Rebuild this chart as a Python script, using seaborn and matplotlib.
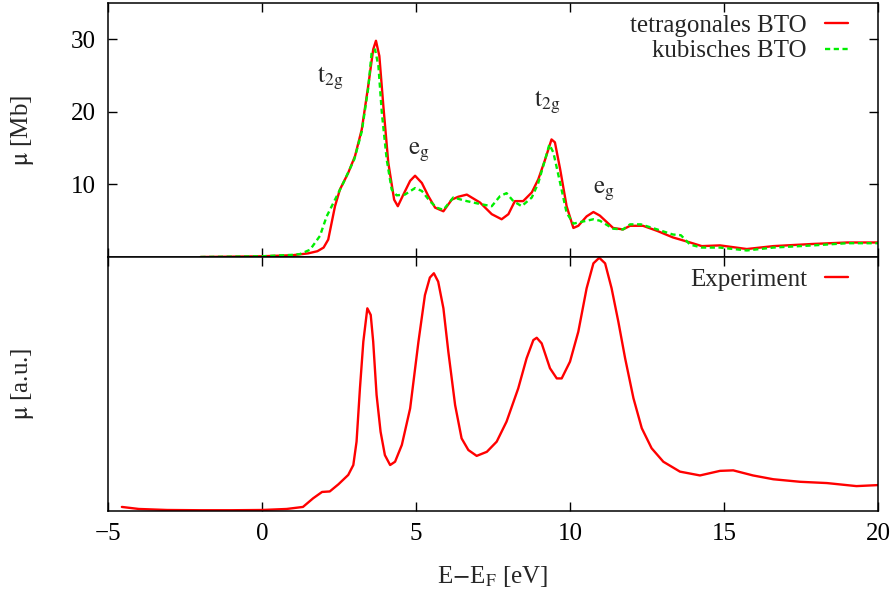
import matplotlib
matplotlib.use("Agg")
import matplotlib.pyplot as plt
import seaborn as sns
import pandas as pd

# ---------------- data ----------------
tet_x = [-2.0, 0, 1.0, 1.5, 1.8, 2.0, 2.15, 2.37, 2.53, 2.80, 3.02, 3.24, 3.45, 3.61, 3.70, 3.81,
         3.94, 4.10, 4.29, 4.41, 4.59, 4.81, 4.97, 5.19, 5.40, 5.62, 5.89, 6.16, 6.37, 6.65, 7.08,
         7.46, 7.78, 8.0, 8.21, 8.48, 8.76, 8.97, 9.19, 9.40, 9.51, 9.68, 9.89, 10.11, 10.27,
         10.54, 10.76, 10.97, 11.4, 11.72, 11.95, 12.37, 12.83, 13.34, 13.9, 14.28, 14.87,
         15.74, 16.6, 17.9, 19.0, 20.0]
tet_y = [0, 0.1, 0.25, 0.5, 0.8, 1.3, 2.4, 7.0, 9.3, 11.6, 13.9, 17.6, 23.6, 28.6, 29.8, 27.7,
         20.8, 13.0, 7.9, 7.0, 8.6, 10.5, 11.2, 10.2, 8.4, 6.8, 6.3, 7.9, 8.3, 8.6, 7.5,
         5.9, 5.2, 5.9, 7.7, 7.7, 8.9, 10.7, 13.4, 16.2, 15.8, 12.1, 7.0, 4.0, 4.3,
         5.6, 6.2, 5.7, 4.0, 3.8, 4.3, 4.3, 3.6, 2.7, 2.0, 1.5, 1.6,
         1.1, 1.5, 1.8, 2.0, 2.0]

cub_x = [-2.0, 0, 1.0, 1.23, 1.56, 1.88, 2.10, 2.37, 2.64, 3.0, 3.24, 3.45, 3.56, 3.67, 3.78,
         3.89, 4.05, 4.21, 4.37, 4.64, 4.97, 5.19, 5.45, 5.67, 5.89, 6.21, 6.65, 7.08, 7.46,
         7.73, 7.94, 8.16, 8.43, 8.76, 8.97, 9.19, 9.33, 9.46, 9.68, 9.89, 10.11, 10.43,
         10.76, 10.97, 11.4, 11.72, 11.95, 12.3, 12.83, 13.34, 13.6, 13.9, 14.28, 14.87,
         15.74, 16.6, 17.9, 19.0, 20.0]
cub_y = [0, 0.1, 0.3, 0.4, 1.0, 2.9, 5.6, 7.9, 10.2, 13.5, 17.3, 23.3, 28.2, 28.6, 26.3,
         19.9, 13.4, 9.3, 8.5, 8.6, 9.5, 9.1, 7.7, 6.8, 6.5, 8.2, 7.7, 7.3, 7.0,
         8.4, 8.8, 7.7, 7.0, 8.2, 10.2, 13.4, 15.5, 14.4, 10.2, 6.1, 4.6, 4.9,
         5.2, 5.0, 3.9, 3.8, 4.5, 4.5, 3.8, 3.1, 3.0, 1.7, 1.3, 1.3,
         0.9, 1.3, 1.6, 1.9, 1.9]

exp_x = [-4.55, -4.0, -3.08, -2, -1, 0, 0.8, 1.33, 1.66, 1.95, 2.2, 2.48, 2.80, 2.965, 3.07,
         3.18, 3.29, 3.42, 3.53, 3.61, 3.72, 3.85, 3.99, 4.16, 4.32, 4.54, 4.81, 5.08, 5.29,
         5.45, 5.58, 5.72, 5.89, 6.05, 6.27, 6.48, 6.70, 6.97, 7.30, 7.62, 7.94, 8.32, 8.59,
         8.81, 8.92, 9.08, 9.35, 9.57, 9.73, 10.0, 10.27, 10.54, 10.76, 10.95, 11.14, 11.35,
         11.57, 11.79, 12.06, 12.33, 12.65, 13.03, 13.57, 14.22, 14.87, 15.3, 15.94, 16.6,
         17.47, 18.34, 19.3, 20.0]
exp_y = [0.016, 0.008, 0.004, 0.003, 0.003, 0.004, 0.008, 0.016, 0.05, 0.075, 0.077, 0.105,
         0.142, 0.181, 0.273, 0.483, 0.667, 0.798, 0.772, 0.667, 0.457, 0.312, 0.22, 0.181,
         0.194, 0.26, 0.404, 0.667, 0.85, 0.919, 0.936, 0.903, 0.798, 0.627, 0.417, 0.286,
         0.24, 0.217, 0.233, 0.273, 0.352, 0.483, 0.601, 0.673, 0.682, 0.66, 0.562, 0.522,
         0.522, 0.588, 0.706, 0.877, 0.975, 0.997, 0.975, 0.877, 0.745, 0.601, 0.444, 0.326,
         0.247, 0.194, 0.155, 0.14, 0.158, 0.16, 0.14, 0.125, 0.115, 0.11, 0.098, 0.102]

labels_top = ["tetragonales BTO", "kubisches BTO"]
label_bot = "Experiment"
x_ticks = [-5, 0, 5, 10, 15, 20]
y_ticks_top = [10, 20, 30]

annotations = [(2.2, 24.6, r"$\mathrm{t_{2g}}$"), (5.1, 14.4, r"$\mathrm{e_g}$"),
               (9.25, 21.3, r"$\mathrm{t_{2g}}$"), (11.1, 9.0, r"$\mathrm{e_g}$")]

# ---------------- style ----------------
sns.set_theme(style="ticks")
plt.rcParams["font.family"] = ["Liberation Serif", "DejaVu Serif"]
plt.rcParams["mathtext.fontset"] = "stix"
FS = 18

fig = plt.figure(figsize=(8.95, 5.89), dpi=100)
L, R = 108 / 895, 878 / 895
ax1 = fig.add_axes([L, 1 - 257 / 589, R - L, (257 - 3) / 589])
ax2 = fig.add_axes([L, 1 - 511 / 589, R - L, (511 - 257) / 589], sharex=ax1)

df_top = pd.concat([
    pd.DataFrame({"x": tet_x, "y": tet_y, "s": labels_top[0]}),
    pd.DataFrame({"x": cub_x, "y": cub_y, "s": labels_top[1]}),
])
red = "#ff0000"
green = "#00ee00"
sns.lineplot(data=df_top, x="x", y="y", hue="s", style="s",
             palette={labels_top[0]: red, labels_top[1]: green},
             dashes={labels_top[0]: "", labels_top[1]: (2.2, 1.5)},
             linewidth=1.7, ax=ax1, sort=False, estimator=None)

df_bot = pd.DataFrame({"x": exp_x, "y": exp_y, "s": label_bot})
sns.lineplot(data=df_bot, x="x", y="y", hue="s", palette={label_bot: red},
             linewidth=1.7, ax=ax2, sort=False, estimator=None)

for xa, ya, t in annotations:
    ax1.text(xa, ya, t, fontsize=FS, ha="center", va="center")

ax1.set_xlim(-5, 20)
ax1.set_ylim(0, 35)
ax2.set_ylim(0, 1.0)
ax1.set_yticks(y_ticks_top)
ax2.set_yticks([])
ax2.set_xticks(x_ticks)
ax2.set_xticklabels([("\u2212" + str(-v)) if v < 0 else str(v) for v in x_ticks])
plt.setp(ax1.get_xticklabels(), visible=False)

for ax in (ax1, ax2):
    ax.tick_params(direction="in", length=6.5, width=1.0, top=True, right=(ax is ax1),
                   labelsize=FS, colors="black", pad=9)
    for sp in ax.spines.values():
        sp.set_linewidth(1.1)
        sp.set_color("black")
    ax.set_xlabel("")
    ax.set_ylabel("")

ax1.set_ylabel(r"$\mathrm{\mu}$ [Mb]", fontsize=FS)
ax2.set_ylabel(r"$\mathrm{\mu}$ [a.u.]", fontsize=FS)
ax2.set_xlabel(r"E$-$E$_\mathrm{F}$ [eV]", fontsize=FS, labelpad=13)
ax1.yaxis.set_label_coords(-0.094, 0.5)
ax2.yaxis.set_label_coords(-0.094, 0.5)

for ax in (ax1, ax2):
    ax.legend(loc="upper right", bbox_to_anchor=(0.974, 0.995), borderaxespad=0,
              frameon=False, fontsize=FS, markerfirst=False,
              handlelength=0.9, handletextpad=0.75, labelspacing=0.12, title=None)

fig.savefig("out.png", dpi=100)
